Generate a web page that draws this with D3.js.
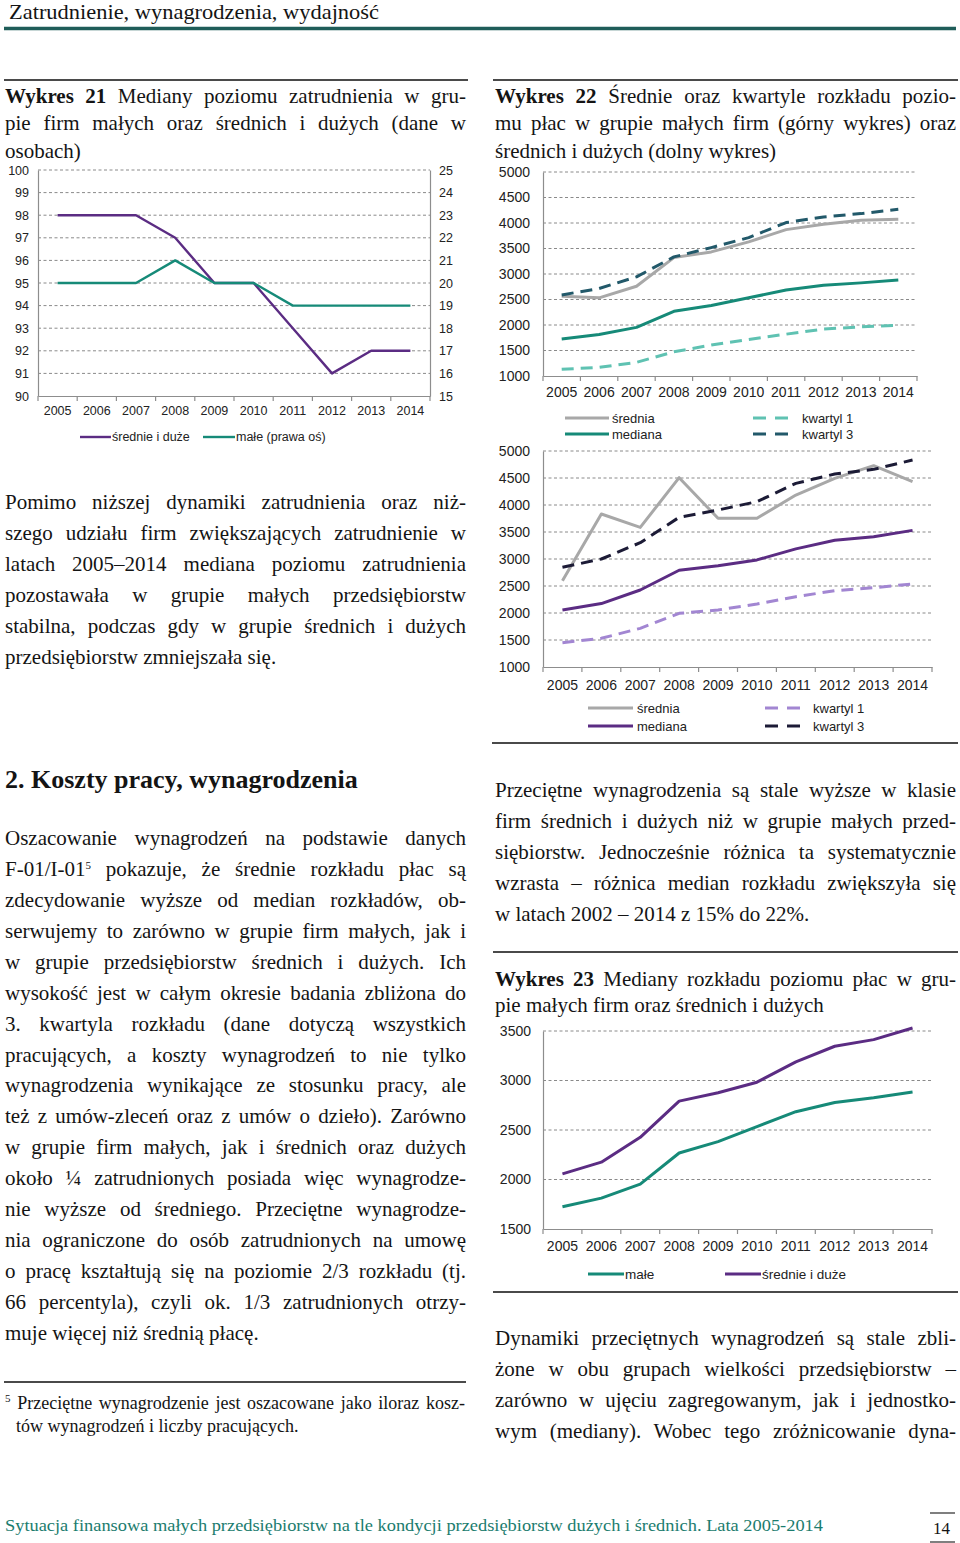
<!DOCTYPE html>
<html><head><meta charset="utf-8">
<script src="https://cdn.jsdelivr.net/npm/d3@7"></script>
<style>
body{margin:0;background:#fff;}
#page{position:relative;width:960px;height:1543px;overflow:hidden;background:#fff;font-family:"Liberation Serif","Times New Roman",serif;color:#141414;}
.ln{position:absolute;white-space:nowrap;}
svg{position:absolute;left:0;top:0;}
sup{font-size:11px;vertical-align:0;position:relative;top:-7px;}
</style></head>
<body><div id="page"></div>
<script>
// ---------- DATA ----------
const years = ["2005","2006","2007","2008","2009","2010","2011","2012","2013","2014"];
// Wykres 21 – employment medians
const emplMediumLarge = [98,98,98,97,95,95,93,91,92,92];
const emplSmall = [20,20,20,21,20,20,19,19,19,19];
const emplLeftTicks = [90,91,92,93,94,95,96,97,98,99,100];
const emplRightTicks = [15,16,17,18,19,20,21,22,23,24,25];
// Wykres 22 – small firms (top)
const smallMean   = [2565,2533,2760,3322,3433,3630,3870,3975,4054,4073];
const smallMedian = [1725,1812,1953,2268,2383,2534,2685,2778,2826,2883];
const smallQ1     = [1130,1170,1267,1475,1606,1717,1820,1920,1965,1995];
const smallQ3     = [2590,2715,2944,3335,3518,3714,4008,4119,4184,4269];
// Wykres 22 – medium and large firms (bottom)
const mlMean   = [2598,3833,3586,4506,3753,3753,4185,4494,4728,4432];
const mlMedian = [2057,2175,2426,2792,2876,2983,3188,3346,3413,3530];
const mlQ1     = [1451,1531,1716,1994,2056,2167,2302,2414,2469,2537];
const mlQ3     = [2846,3000,3302,3772,3907,4062,4401,4574,4660,4833];
const wageTicks = [1000,1500,2000,2500,3000,3500,4000,4500,5000];
// Wykres 23 – medians
const chart23Ticks = [1500,2000,2500,3000,3500];

// ---------- TEXT ----------
const headerText = "Zatrudnienie, wynagrodzenia, wydajność";
const title21 = ["<b>Wykres 21</b> Mediany poziomu zatrudnienia w gru-","pie firm małych oraz średnich i dużych (dane w","osobach)"];
const title22 = ["<b>Wykres 22</b> Średnie oraz kwartyle rozkładu pozio-","mu płac w grupie małych firm (górny wykres) oraz","średnich i dużych (dolny wykres)"];
const title23 = ["<b>Wykres 23</b> Mediany rozkładu poziomu płac w gru-","pie małych firm oraz średnich i dużych"];
const para1 = ["Pomimo niższej dynamiki zatrudnienia oraz niż-","szego udziału firm zwiększających zatrudnienie w","latach 2005–2014 mediana poziomu zatrudnienia","pozostawała w grupie małych przedsiębiorstw","stabilna, podczas gdy w grupie średnich i dużych","przedsiębiorstw zmniejszała się."];
const heading2 = "2. Koszty pracy, wynagrodzenia";
const para2 = ["Oszacowanie wynagrodzeń na podstawie danych","F-01/I-01<sup>5</sup> pokazuje, że średnie rozkładu płac są","zdecydowanie wyższe od median rozkładów, ob-","serwujemy to zarówno w grupie firm małych, jak i","w grupie przedsiębiorstw średnich i dużych. Ich","wysokość jest w całym okresie badania zbliżona do","3. kwartyla rozkładu (dane dotyczą wszystkich","pracujących, a koszty wynagrodzeń to nie tylko","wynagrodzenia wynikające ze stosunku pracy, ale","też z umów-zleceń oraz z umów o dzieło). Zarówno","w grupie firm małych, jak i średnich oraz dużych","około ¼ zatrudnionych posiada więc wynagrodze-","nie wyższe od średniego. Przeciętne wynagrodze-","nia ograniczone do osób zatrudnionych na umowę","o pracę kształtują się na poziomie 2/3 rozkładu (tj.","66 percentyla), czyli ok. 1/3 zatrudnionych otrzy-","muje więcej niż średnią płacę."];
const footnote = ["<sup>5</sup> Przeciętne wynagrodzenie jest oszacowane jako iloraz kosz-","tów wynagrodzeń i liczby pracujących."];
const para3 = ["Przeciętne wynagrodzenia są stale wyższe w klasie","firm średnich i dużych niż w grupie małych przed-","siębiorstw. Jednocześnie różnica ta systematycznie","wzrasta – różnica median rozkładu zwiększyła się","w latach 2002 – 2014 z 15% do 22%."];
const para4 = ["Dynamiki przeciętnych wynagrodzeń są stale zbli-","żone w obu grupach wielkości przedsiębiorstw –","zarówno w ujęciu zagregowanym, jak i jednostko-","wym (mediany). Wobec tego zróżnicowanie dyna-"];
const footerText = "Sytuacja finansowa małych przedsiębiorstw na tle kondycji przedsiębiorstw dużych i średnich. Lata 2005-2014";
const pageNo = "14";

// ---------- PAGE ----------
const page = d3.select("#page");
const svg = page.append("svg").attr("width",960).attr("height",1543);

function txt(x, cy, html, o = {}) {
  const fs = o.fs || 21;
  const d = page.append("div").attr("class","ln")
    .style("left", x + "px").style("top", (cy - 0.48*fs) + "px")
    .style("font-size", fs + "px").style("line-height", fs + "px").html(html);
  if (o.w) d.style("width", o.w + "px").style("text-align","justify").style("text-align-last","justify");
  if (o.color) d.style("color", o.color);
  if (o.bold) d.style("font-weight","bold");
  if (o.fit) {
    const wid = d.node().getBoundingClientRect().width;
    d.style("transform", `scaleX(${o.fit / wid})`).style("transform-origin","0 0");
  }
  return d;
}
function para(lines, x, y0, step, w, lastFree, fs) {
  lines.forEach((l, i) => {
    const last = lastFree && i === lines.length - 1;
    txt(x, y0 + i*step, l, {w: last ? null : w, fs: fs});
  });
}
function rule(x1, x2, y, color, width) {
  svg.append("line").attr("x1",x1).attr("x2",x2).attr("y1",y).attr("y2",y)
    .attr("stroke",color).attr("stroke-width",width);
}

// header
txt(9, 12, headerText, {fs: 21, fit: 370});
rule(4, 956, 28.5, "#1f5d59", 3.5);

// rules
rule(4, 468, 80, "#4a4a4a", 2);
rule(493, 958, 80, "#4a4a4a", 2);
rule(492, 958, 743, "#4a4a4a", 2);
rule(493, 958, 952, "#4a4a4a", 2);
rule(493, 958, 1292, "#4a4a4a", 2);
rule(4, 466, 1382, "#4a4a4a", 2);

// titles and paragraphs
para(title21, 5, 96, 27.5, 461, true, 21);
para(title22, 495, 96, 27.5, 461, true, 21);
para(para1, 5, 502, 31, 461, true, 21);
txt(5, 779, heading2, {fs: 26, bold: true});
para(para2, 5, 838, 30.94, 461, true, 21);
txt(5, 1403, footnote[0], {fs: 18, w: 460});
txt(16, 1426, footnote[1], {fs: 18});
para(para3, 495, 790, 30.9, 461, true, 21);
para(title23, 495, 979, 26.5, 461, true, 21);
para(para4, 495, 1338, 31, 461, false, 21);

// footer
txt(5, 1525, footerText, {fs: 17, color: "#1b7c6e", fit: 818});
txt(933, 1528, pageNo, {fs: 17});
rule(930, 955, 1513, "#555", 1.5);
rule(930, 955, 1542, "#555", 1.5);

// ---------- CHARTS ----------
const SANS = "Liberation Sans, Arial, sans-serif";
const GRID = "#8a8a8a", AXIS = "#8d8d8d", LAB = "#222";

function chart(o) {
  const g = svg.append("g");
  const x = d3.scaleBand().domain(years).range([o.x0, o.x1]);
  const y = d3.scaleLinear().domain(o.domain).range([o.yb, o.yt]);
  // grid
  g.selectAll(null).data(o.grid).join("line")
    .attr("x1", o.x0).attr("x2", o.x1).attr("y1", d => y(d)).attr("y2", d => y(d))
    .attr("stroke", GRID).attr("stroke-width", 1).attr("stroke-dasharray", "3,2.5");
  // left axis
  const la = g.append("g").attr("transform", `translate(${o.x0},0)`)
    .call(d3.axisLeft(y).tickValues(o.ticks).tickSize(0).tickSizeOuter(0).tickPadding(o.ypad).tickFormat(d3.format("d")));
  la.select(".domain").attr("stroke", AXIS).attr("stroke-width", 1.2);
  la.selectAll("text").attr("font-family", SANS).attr("font-size", o.fs).attr("fill", LAB);
  // right axis (optional)
  let y2 = null;
  if (o.rightDomain) {
    y2 = d3.scaleLinear().domain(o.rightDomain).range([o.yb, o.yt]);
    const ra = g.append("g").attr("transform", `translate(${o.x1},0)`)
      .call(d3.axisRight(y2).tickValues(o.rightTicks).tickSize(0).tickSizeOuter(0).tickPadding(o.ypad).tickFormat(d3.format("d")));
    ra.select(".domain").attr("stroke", AXIS).attr("stroke-width", 1.2);
    ra.selectAll("text").attr("font-family", SANS).attr("font-size", o.fs).attr("fill", LAB);
  }
  // bottom axis
  const ba = g.append("g").attr("transform", `translate(0,${o.yb})`)
    .call(d3.axisBottom(x).tickSize(0).tickSizeOuter(0).tickPadding(o.xpad));
  ba.select(".domain").attr("stroke", AXIS).attr("stroke-width", 1.2);
  ba.selectAll("text").attr("font-family", SANS).attr("font-size", o.fs).attr("fill", LAB);
  // boundary ticks
  const bounds = years.map(d => x(d)).concat([x.range()[1]]);
  g.selectAll(null).data(bounds).join("line")
    .attr("x1", d => d).attr("x2", d => d).attr("y1", o.yb).attr("y2", o.yb + 5)
    .attr("stroke", AXIS).attr("stroke-width", 1.2);
  // series
  o.series.forEach(s => {
    const sc = s.right ? y2 : y;
    const gen = d3.line().x((d, i) => x(years[i]) + x.bandwidth()/2).y(d => sc(d));
    g.append("path").datum(s.values).attr("d", gen).attr("fill", "none")
      .attr("stroke", s.color).attr("stroke-width", s.width || o.lw)
      .attr("stroke-dasharray", s.dash || null).attr("stroke-linejoin", "round");
  });
  // legend
  (o.legend || []).forEach(l => {
    g.append("line").attr("x1", l.x1).attr("x2", l.x2).attr("y1", l.y).attr("y2", l.y)
      .attr("stroke", l.color).attr("stroke-width", o.lw).attr("stroke-dasharray", l.dash || null);
    g.append("text").attr("x", l.tx).attr("y", l.y).attr("dy", "0.35em")
      .attr("font-family", SANS).attr("font-size", o.lfs).attr("fill", LAB).text(l.label);
  });
}

const PURPLE = "#5b2c83", TEAL = "#168a78", GRAY = "#a8a8a8",
      LTEAL = "#5fc2b2", DTEAL = "#22596a", LPURPLE = "#a286d2", NAVY = "#1c1b36";
const DASH = "12,7";

// Wykres 21
chart({
  x0: 38, x1: 430, yt: 170, yb: 396, domain: [90, 100], ticks: emplLeftTicks,
  grid: emplLeftTicks.slice(1), rightDomain: [15, 25], rightTicks: emplRightTicks,
  ypad: 9, xpad: 10.5, fs: 12.5, lfs: 12.5, lw: 2.4,
  series: [
    {values: emplMediumLarge, color: PURPLE},
    {values: emplSmall, color: TEAL, right: true}
  ],
  legend: [
    {x1: 80, x2: 111, y: 437, color: PURPLE, tx: 112, label: "średnie i duże"},
    {x1: 203, x2: 235, y: 437, color: TEAL, tx: 236, label: "małe (prawa oś)"}
  ]
});

// Wykres 22 top
chart({
  x0: 543, x1: 917, yt: 172, yb: 376, domain: [1000, 5000], ticks: wageTicks,
  grid: wageTicks.slice(1), ypad: 13, xpad: 11, fs: 14, lfs: 13, lw: 3,
  series: [
    {values: smallQ1, color: LTEAL, dash: DASH},
    {values: smallMedian, color: TEAL},
    {values: smallMean, color: GRAY},
    {values: smallQ3, color: DTEAL, dash: DASH}
  ],
  legend: [
    {x1: 565, x2: 609, y: 418, color: GRAY, tx: 612, label: "średnia"},
    {x1: 565, x2: 609, y: 434, color: TEAL, tx: 612, label: "mediana"},
    {x1: 753, x2: 789, y: 418, color: LTEAL, dash: "13,9", tx: 802, label: "kwartyl 1"},
    {x1: 753, x2: 789, y: 434, color: DTEAL, dash: "13,9", tx: 802, label: "kwartyl 3"}
  ]
});

// Wykres 22 bottom
chart({
  x0: 543, x1: 932, yt: 451, yb: 667, domain: [1000, 5000], ticks: wageTicks,
  grid: wageTicks.slice(1), ypad: 13, xpad: 13.5, fs: 14, lfs: 13, lw: 3,
  series: [
    {values: mlQ1, color: LPURPLE, dash: DASH},
    {values: mlMedian, color: PURPLE},
    {values: mlMean, color: GRAY},
    {values: mlQ3, color: NAVY, dash: DASH}
  ],
  legend: [
    {x1: 588, x2: 633, y: 708, color: GRAY, tx: 637, label: "średnia"},
    {x1: 588, x2: 633, y: 726, color: PURPLE, tx: 637, label: "mediana"},
    {x1: 765, x2: 801, y: 708, color: LPURPLE, dash: "13,9", tx: 813, label: "kwartyl 1"},
    {x1: 765, x2: 801, y: 726, color: NAVY, dash: "13,9", tx: 813, label: "kwartyl 3"}
  ]
});

// Wykres 23
chart({
  x0: 543, x1: 932, yt: 1031, yb: 1229, domain: [1500, 3500], ticks: chart23Ticks,
  grid: chart23Ticks.slice(1), ypad: 12, xpad: 12.5, fs: 14, lfs: 13.5, lw: 3,
  series: [
    {values: smallMedian, color: TEAL},
    {values: mlMedian, color: PURPLE}
  ],
  legend: [
    {x1: 588, x2: 624, y: 1274, color: TEAL, tx: 625, label: "małe"},
    {x1: 725, x2: 761, y: 1274, color: PURPLE, tx: 762, label: "średnie i duże"}
  ]
});
</script>
</body></html>
